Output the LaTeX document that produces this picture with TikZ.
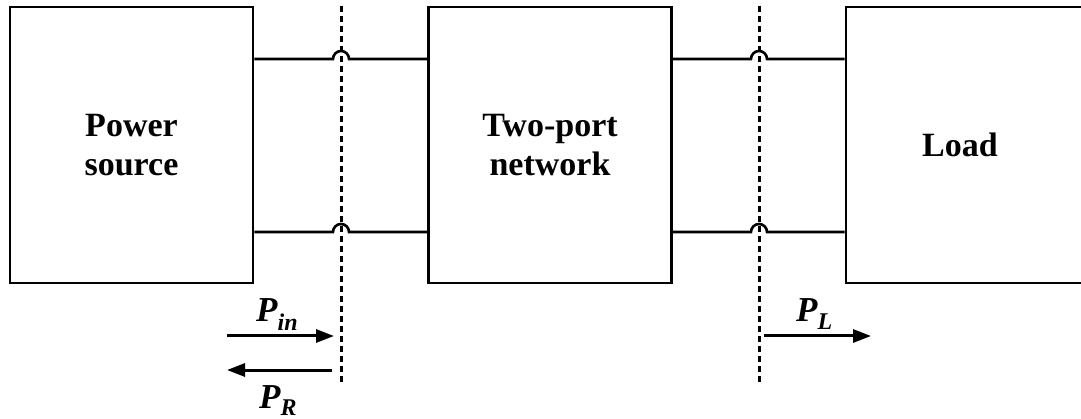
\documentclass[tikz,border=0pt]{standalone}
\usepackage{fontspec}
\setmainfont{Liberation Serif}
\usetikzlibrary{arrows.meta,calc}
\begin{document}
\begin{tikzpicture}[x=1pt,y=1pt,
  blockbox/.style={draw,line width=2.6pt,minimum width=243pt,minimum height=276pt,inner sep=0pt,align=center,
    font=\fontsize{34}{39}\selectfont\bfseries},
  wire/.style={line width=2.6pt},
  cutline/.style={line width=3pt,dash pattern=on 6pt off 4pt},
  flow/.style={line width=3pt,-{Triangle[length=18pt,width=13pt]}},
  plabel/.style={font=\fontsize{35}{37}\selectfont\bfseries\itshape,inner sep=0pt,anchor=base west}]
\useasboundingbox (0,0) rectangle (1081,-419);
\clip (0,0) rectangle (1081,-419);
\node[blockbox] (ps) at (131.5,-145) {Power\\source};
\node[blockbox] (tp) at (550,-145) {Two-port\\network};
\node[blockbox,minimum width=244pt,text width=244pt] (ld) at (968,-145) {\hspace*{-16pt}Load};
\coordinate (c1t) at (341,-6);
\coordinate (c1b) at (341,-383);
\coordinate (c2t) at (759,-6);
\coordinate (c2b) at (759,-383);
\coordinate (up) at (0,-59);
\coordinate (dn) at (0,-232);
% wires with hops
\draw[wire] (ps.east |- up) -- ([xshift=-8pt]c1t |- up) arc[start angle=180,end angle=0,radius=8pt] -- (tp.west |- up);
\draw[wire] (ps.east |- dn) -- ([xshift=-8pt]c1t |- dn) arc[start angle=180,end angle=0,radius=8pt] -- (tp.west |- dn);
\draw[wire] (tp.east |- up) -- ([xshift=-8pt]c2t |- up) arc[start angle=180,end angle=0,radius=8pt] -- (ld.west |- up);
\draw[wire] (tp.east |- dn) -- ([xshift=-8pt]c2t |- dn) arc[start angle=180,end angle=0,radius=8pt] -- (ld.west |- dn);
% cut lines
\draw[cutline] (c1t) -- (c1b);
\draw[cutline] (c2t) -- (c2b);
% power flow arrows
\coordinate (pin0) at (227,-336);
\coordinate (pin1) at (334,-336);
\coordinate (pr0) at (332,-370);
\coordinate (pr1) at (227,-370);
\coordinate (pl0) at (764,-336);
\coordinate (pl1) at (871,-336);
\draw[flow] (pin0) -- (pin1);
\draw[flow] (pr0) -- (pr1);
\draw[flow] (pl0) -- (pl1);
\node[plabel] (lin) at (256,-322) {P\textsubscript{\fontsize{24}{24}\selectfont in}};
\node[plabel] (lr) at (259,-408) {P\textsubscript{\fontsize{24}{24}\selectfont R}};
\node[plabel] (ll) at (796,-322) {P\textsubscript{\fontsize{24}{24}\selectfont L}};
\end{tikzpicture}
\end{document}
